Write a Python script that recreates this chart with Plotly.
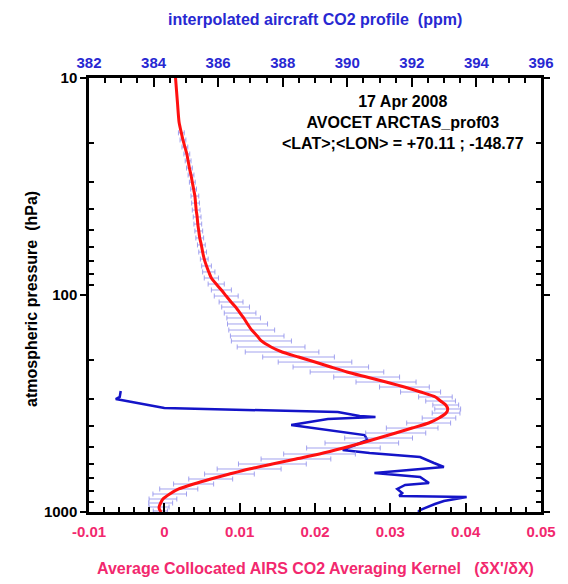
import plotly.graph_objects as go

# Interpolated aircraft CO2 profile (ppm) on pressure levels (hPa)
pressure_hpa = [10.0, 13.0, 16.0,
                17.9, 19.3, 20.8, 22.4, 24.1, 26.0, 28.0, 30.2, 32.5, 35.0, 37.7, 40.6, 43.7,
                47.1, 50.7, 54.6, 58.8, 63.4, 68.3, 73.5, 78.3, 83.5, 89.0, 94.8, 101.1,
                107.7, 113.6, 121.1, 127.6, 136.0, 145.0, 154.5, 162.9, 173.6, 183.1, 193.1,
                203.7, 214.7, 226.3, 238.8, 251.8, 265.5, 279.9, 295.1, 308.0, 321.3, 335.2,
                349.9, 368.9, 389.0, 410.3, 432.5, 456.1, 480.8, 507.1, 540.4, 569.8, 600.9,
                633.6, 668.4, 704.6, 743.0, 783.4, 826.1, 871.2, 908.9, 948.4, 989.5, 1000.0]
co2_ppm = [384.68, 384.74, 384.79,
           384.86, 384.91, 384.97, 385.03, 385.07, 385.11, 385.16, 385.20, 385.24, 385.28, 385.30,
           385.32, 385.35, 385.37, 385.40, 385.43, 385.48, 385.52, 385.57, 385.64, 385.71, 385.79,
           385.94, 386.10, 386.25,
           386.40, 386.54, 386.68, 386.79, 386.91, 387.04, 387.21, 387.34, 387.64, 387.98, 388.49,
           389.00, 389.49, 389.99, 390.60, 391.20, 391.77, 392.27, 392.73, 392.89, 393.05, 393.11,
           393.06, 392.84, 392.52, 392.01, 391.50, 390.97, 390.45, 389.88, 389.14, 388.41, 387.68,
           386.96, 386.35, 385.77, 385.24, 384.78, 384.50, 384.29, 384.22, 384.17, 384.21, 384.25]
# Spread of the profile (ppm), from the 4th level (17.9 hPa) down to 989.5 hPa
co2_err_ppm = [0.09, 0.09, 0.09, 0.09, 0.09, 0.09, 0.09, 0.09, 0.09,
               0.12, 0.12, 0.12, 0.12, 0.12, 0.12, 0.12, 0.12, 0.12, 0.12,
               0.15, 0.19, 0.22, 0.25, 0.31, 0.37,
               0.37, 0.43, 0.49, 0.52, 0.62, 0.71, 0.83, 0.93, 1.05, 1.14, 1.11,
               1.14, 1.17, 1.14, 1.02, 0.93, 0.77, 0.62, 0.52, 0.46, 0.40, 0.40,
               0.43, 0.52, 0.68, 0.80, 0.93, 1.05, 1.14, 1.14, 1.11, 1.08, 1.05,
               0.99, 0.77, 0.68, 0.62, 0.59, 0.52, 0.43, 0.37, 0.31, 0.22]
err_start = 3

# Average collocated AIRS CO2 averaging kernel
kernel_pressure_hpa = [276.9, 295.1, 301.5, 331.7, 346.2, 361.1, 364.9, 372.7, 397.3, 441.9,
                       465.9, 518.0, 534.8, 557.9, 594.5, 620.3, 661.1, 689.7, 735.1, 750.9,
                       783.4, 817.4, 843.9, 852.9, 889.7, 918.4, 979.0, 1000.0]
kernel_value = [-0.00579, -0.00592, -0.00645, 0.0, 0.02303, 0.02592, 0.02803, 0.02171, 0.01684,
                0.02658, 0.02697, 0.02368, 0.02724, 0.03395, 0.03579, 0.03711, 0.02789, 0.03395,
                0.03513, 0.03197, 0.03092, 0.03158, 0.03118, 0.04013, 0.03711, 0.03592, 0.03395,
                0.03368]

pressure_ticks = [10, 100, 1000]
pressure_tick_text = ["10", "100", "1000"]
pressure_minor = [20, 30, 40, 50, 60, 70, 80, 90, 200, 300, 400, 500, 600, 700, 800, 900]
kernel_ticks = [-0.01, 0, 0.01, 0.02, 0.03, 0.04, 0.05]
kernel_tick_text = ["-0.01", "0", "0.01", "0.02", "0.03", "0.04", "0.05"]
co2_ticks = [382, 384, 386, 388, 390, 392, 394, 396]

FONT = "Liberation Sans, Arial, sans-serif"
BLUE_TXT = "#2828D2"
PINK_TXT = "#F2286E"

fig = go.Figure()

fig.add_trace(go.Scatter(
    x=kernel_value, y=kernel_pressure_hpa, xaxis="x", yaxis="y",
    mode="lines", line=dict(color="#1414C8", width=2.5),
    showlegend=False, hoverinfo="skip"))

n_err = len(co2_err_ppm)
fig.add_trace(go.Scatter(
    x=co2_ppm[err_start:err_start + n_err], y=pressure_hpa[err_start:err_start + n_err],
    xaxis="x2", yaxis="y", mode="markers",
    marker=dict(size=2, color="rgba(0,0,0,0)"),
    error_x=dict(type="data", array=co2_err_ppm, color="rgba(140,140,235,0.8)",
                 thickness=1, width=2.5),
    showlegend=False, hoverinfo="skip"))

fig.add_trace(go.Scatter(
    x=co2_ppm, y=pressure_hpa, xaxis="x2", yaxis="y",
    mode="lines", line=dict(color="#FF1010", width=3, shape="spline", smoothing=0.6),
    showlegend=False, hoverinfo="skip"))

tick_font = dict(family=FONT, size=15, weight="bold")

fig.update_layout(
    width=568, height=584,
    margin=dict(l=89, r=24, t=78, b=72),
    paper_bgcolor="white", plot_bgcolor="white",
    xaxis=dict(
        range=[-0.01, 0.05], tickmode="array", tickvals=kernel_ticks, ticktext=kernel_tick_text,
        ticks="inside", ticklen=9, tickwidth=2, tickcolor="black",
        minor=dict(dtick=0.002, tick0=0, ticks="inside", ticklen=5, tickwidth=1.5,
                   tickcolor="black", showgrid=False),
        showline=True, linewidth=2.5, linecolor="black", showgrid=False, zeroline=False,
        tickfont=dict(tick_font, color=PINK_TXT), ticklabelstandoff=4),
    xaxis2=dict(
        range=[382, 396], overlaying="x", side="top", anchor="y",
        tickmode="array", tickvals=co2_ticks,
        ticks="inside", ticklen=9, tickwidth=2, tickcolor="black",
        minor=dict(dtick=0.5, tick0=382, ticks="inside", ticklen=5, tickwidth=1.5,
                   tickcolor="black", showgrid=False),
        showline=True, linewidth=2.5, linecolor="black", showgrid=False, zeroline=False,
        tickfont=dict(tick_font, color=BLUE_TXT), ticklabelstandoff=1),
    yaxis=dict(
        type="log", range=[3, 1], tickmode="array", tickvals=pressure_ticks,
        ticktext=pressure_tick_text,
        ticks="outside", ticklen=6, tickwidth=2, tickcolor="black",
        minor=dict(tickmode="array", tickvals=pressure_minor, ticks="inside", ticklen=5,
                   tickwidth=1.5, tickcolor="black", showgrid=False),
        showline=True, linewidth=2.5, linecolor="black", mirror="ticks",
        showgrid=False, zeroline=False,
        tickfont=dict(tick_font, color="black")),
    annotations=[
        dict(text="interpolated aircraft CO2 profile\u00a0\u00a0(ppm)",
             xref="paper", yref="paper", x=0.5, y=1.134, xanchor="center", yanchor="middle",
             showarrow=False, font=dict(family=FONT, size=16, color=BLUE_TXT, weight="bold")),
        dict(text="Average Collocated AIRS CO2 Averaging Kernel\u00a0\u00a0\u00a0(δX'/δX)",
             xref="paper", yref="paper", x=0.5, y=-0.131, xanchor="center", yanchor="middle",
             showarrow=False, font=dict(family=FONT, size=16, color=PINK_TXT, weight="bold")),
        dict(text="atmospheric pressure\u00a0\u00a0(hPa)",
             xref="paper", yref="paper", x=-0.127, y=0.49, xanchor="center", yanchor="middle",
             textangle=-90, showarrow=False,
             font=dict(family=FONT, size=16, color="black", weight="bold")),
        dict(text="17 Apr 2008<br>AVOCET ARCTAS_prof03<br>&lt;LAT&gt;;&lt;LON&gt; = +70.11 ; -148.77",
             xref="paper", yref="paper", x=0.6945, y=0.8986, xanchor="center", yanchor="middle",
             align="center", showarrow=False,
             font=dict(family=FONT, size=16, color="black", weight="bold")),
    ],
)

fig.write_html("out.html")
